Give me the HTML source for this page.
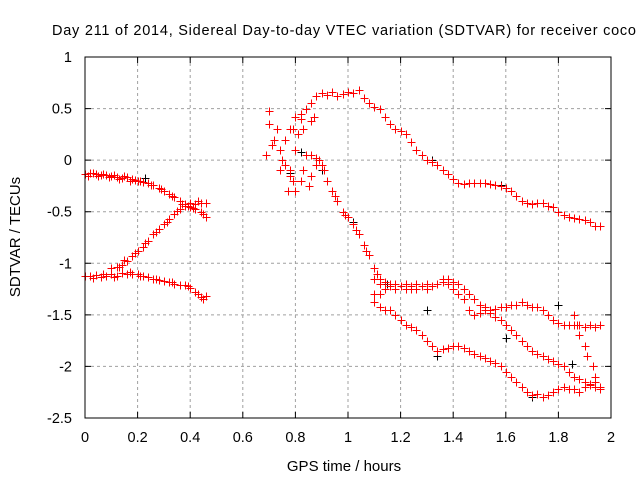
<!DOCTYPE html>
<html><head><meta charset="utf-8"><style>
body{margin:0;background:#fff;}
svg{display:block;font-family:"Liberation Sans",sans-serif;}
</style></head><body>
<svg id="chart" width="640" height="480" viewBox="0 0 640 480" xmlns="http://www.w3.org/2000/svg">
<rect width="640" height="480" fill="#fff"/>
<text x="52" y="35" font-size="14.5" textLength="584" lengthAdjust="spacing" fill="#000">Day 211 of 2014, Sidereal Day-to-day VTEC variation (SDTVAR) for receiver coco</text>
<g id="grid"></g>
<g id="ticks"></g>
<g id="marks"></g>
<rect x="85" y="57" width="526" height="361" fill="none" stroke="#000" stroke-width="1"/>
<text x="344" y="471" font-size="15" text-anchor="middle">GPS time / hours</text>
<text transform="translate(20,237) rotate(-90)" font-size="15" text-anchor="middle">SDTVAR / TECUs</text>
</svg>
<script>
const xTicks=[0,0.2,0.4,0.6,0.8,1,1.2,1.4,1.6,1.8,2];
const xTickLabels=["0","0.2","0.4","0.6","0.8","1","1.2","1.4","1.6","1.8","2"];
const yTicks=[1,0.5,0,-0.5,-1,-1.5,-2,-2.5];
const yTickLabels=["1","0.5","0","-0.5","-1","-1.5","-2","-2.5"];

const traceAX=[0,0.02,0.04,0.06,0.08,0.1,0.12,0.14,0.16,0.18,0.2,0.22,0.24,0.26,0.28,0.3,0.32,0.34,0.36,0.38,0.4,0.42,0.44,0.46];
const traceAY=[-0.13,-0.12,-0.13,-0.14,-0.14,-0.15,-0.16,-0.17,-0.16,-0.18,-0.2,-0.21,-0.22,-0.24,-0.27,-0.3,-0.33,-0.36,-0.4,-0.43,-0.45,-0.47,-0.5,-0.55];
const traceBX=[0.1,0.12,0.14,0.16,0.18,0.2,0.22,0.24,0.26,0.28,0.3,0.32,0.34,0.36,0.38,0.4,0.42,0.44,0.46];
const traceBY=[-1.05,-1.04,-1.02,-0.98,-0.93,-0.88,-0.84,-0.78,-0.72,-0.67,-0.62,-0.57,-0.52,-0.47,-0.44,-0.42,-0.43,-0.42,-0.42];
const traceCX=[0,0.02,0.04,0.06,0.08,0.1,0.12,0.14,0.16,0.18,0.2,0.22,0.24,0.26,0.28,0.3,0.32,0.34,0.36,0.38,0.4,0.42,0.44,0.46];
const traceCY=[-1.12,-1.12,-1.11,-1.13,-1.12,-1.1,-1.12,-1.09,-1.1,-1.1,-1.1,-1.12,-1.13,-1.15,-1.16,-1.17,-1.18,-1.2,-1.21,-1.21,-1.24,-1.28,-1.33,-1.32];
const extraX=[0.01,0.03,0.05,0.07,0.09,0.11,0.13,0.15,0.17,0.19,0.21,0.25,0.29,0.33,0.37,0.41,0.45,0.15,0.19,0.23,0.27,0.31,0.35,0.39,0.43,0.03,0.07,0.11,0.13,0.17,0.21,0.27,0.33,0.39,0.43,0.45];
const extraY=[-0.15,-0.12,-0.15,-0.13,-0.16,-0.14,-0.18,-0.15,-0.2,-0.19,-0.2,-0.24,-0.28,-0.35,-0.43,-0.46,-0.52,-0.97,-0.9,-0.8,-0.7,-0.6,-0.49,-0.44,-0.4,-1.14,-1.1,-1.13,-1.04,-1.08,-1.12,-1.15,-1.18,-1.22,-1.3,-1.35];
const clusterX=[0.69,0.7,0.7,0.72,0.73,0.74,0.75,0.76,0.76,0.77,0.78,0.79,0.8,0.81,0.82,0.83,0.83,0.84,0.85,0.86,0.87,0.88,0.89,0.78,0.8,0.71,0.74,0.79,0.82,0.86];
const clusterY=[0.05,0.35,0.48,0.2,0.3,0.1,0.0,-0.05,0.2,-0.3,-0.1,-0.2,0.1,0.25,-0.2,-0.1,0.3,0.05,-0.25,0.38,0.42,-0.05,0.0,-0.15,-0.3,0.15,-0.1,0.3,0.4,-0.15];
const arcX=[0.78,0.8,0.82,0.84,0.86,0.88,0.9,0.92,0.94,0.96,0.98,1.0,1.02,1.04,1.06,1.08,1.1,1.12,1.14,1.16,1.18,1.2,1.22,1.24,1.26,1.28,1.3,1.32,1.34,1.36,1.38,1.4,1.42,1.44,1.46,1.48,1.5,1.52,1.54,1.56,1.58,1.6,1.62,1.64,1.66,1.68,1.7,1.72,1.74,1.76,1.78,1.8,1.82,1.84,1.86,1.88,1.9,1.92,1.94,1.96];
const arcY=[0.3,0.42,0.45,0.5,0.55,0.62,0.65,0.63,0.66,0.62,0.64,0.66,0.65,0.68,0.6,0.55,0.52,0.5,0.42,0.35,0.3,0.28,0.25,0.18,0.1,0.05,0.0,-0.02,-0.05,-0.1,-0.13,-0.18,-0.22,-0.23,-0.22,-0.22,-0.22,-0.22,-0.23,-0.24,-0.25,-0.27,-0.3,-0.35,-0.4,-0.42,-0.43,-0.42,-0.42,-0.44,-0.45,-0.5,-0.53,-0.55,-0.56,-0.57,-0.58,-0.6,-0.64,-0.64];
const descX=[0.86,0.88,0.9,0.92,0.94,0.96,0.98,1.0,1.02,1.04,1.06,1.08,1.1,1.12,0.91,0.95,0.99,1.03,1.07,1.11];
const descY=[0.05,0.02,-0.05,-0.2,-0.3,-0.4,-0.5,-0.55,-0.62,-0.72,-0.82,-0.92,-1.05,-1.15,-0.1,-0.35,-0.53,-0.68,-0.88,-1.1];
const tailX=[1.1,1.12,1.14,1.16,1.18,1.2,1.22,1.24,1.26,1.28,1.3,1.32,1.34,1.36,1.38,1.4,1.42,1.44,1.46,1.48,1.5,1.52,1.54,1.56,1.58,1.6,1.62,1.64,1.66,1.68,1.7,1.72,1.74,1.76,1.78,1.8,1.82,1.84,1.86,1.88,1.9,1.92,1.94,1.96];
const t1Y=[-1.15,-1.2,-1.18,-1.2,-1.2,-1.22,-1.25,-1.22,-1.2,-1.22,-1.25,-1.22,-1.2,-1.18,-1.2,-1.25,-1.3,-1.35,-1.45,-1.5,-1.48,-1.45,-1.45,-1.44,-1.42,-1.42,-1.4,-1.4,-1.38,-1.4,-1.42,-1.42,-1.45,-1.5,-1.55,-1.58,-1.6,-1.6,-1.6,-1.6,-1.62,-1.6,-1.62,-1.6];
const t2Y=[-1.3,-1.3,-1.25,-1.22,-1.25,-1.22,-1.2,-1.25,-1.25,-1.22,-1.2,-1.22,-1.2,-1.15,-1.15,-1.18,-1.2,-1.25,-1.3,-1.35,-1.4,-1.42,-1.48,-1.52,-1.55,-1.6,-1.65,-1.7,-1.75,-1.8,-1.85,-1.88,-1.9,-1.93,-1.95,-1.98,-2.0,-2.05,-2.1,-2.12,-2.15,-2.17,-2.2,-2.2];
const t3Y=[-1.38,-1.42,-1.45,-1.45,-1.5,-1.55,-1.6,-1.62,-1.65,-1.7,-1.75,-1.8,-1.85,-1.83,-1.82,-1.8,-1.8,-1.82,-1.85,-1.88,-1.9,-1.92,-1.95,-1.97,-2.0,-2.05,-2.1,-2.15,-2.2,-2.25,-2.28,-2.27,-2.3,-2.28,-2.25,-2.22,-2.2,-2.22,-2.22,-2.25,-2.2,-2.18,-2.15,-2.22];
const t4X=[1.86,1.87,1.88,1.9,1.91,1.93,1.94];
const t4Y=[-1.5,-1.6,-1.7,-1.8,-1.9,-2.0,-2.1];
const blackX=[0.23,0.78,0.82,1.02,1.3,1.32,1.34,1.58,1.7,1.8,1.85,1.6,0.9,1.15];
const blackY=[-0.17,-0.12,0.08,-0.6,-1.45,0.0,-1.9,-0.24,-2.3,-1.4,-1.98,-1.72,-0.1,-1.2];

const X0=85,X1=611,Y0=57,Y1=418;
const sx=h=>X0+(h-0)/(2-0)*(X1-X0);
const sy=v=>Y0+(1-v)/(1-(-2.5))*(Y1-Y0);
const NS="http://www.w3.org/2000/svg";
const grid=document.getElementById('grid'),ticks=document.getElementById('ticks'),marks=document.getElementById('marks');
function mk(tag,attrs,parent){const e=document.createElementNS(NS,tag);for(const k in attrs)e.setAttribute(k,attrs[k]);parent.appendChild(e);return e;}

xTicks.forEach((t,i)=>{
  const x=sx(t);
  if(i>0&&i<xTicks.length-1){const g=mk('line',{x1:x,x2:x,y1:Y0,y2:Y1,stroke:'#a0a0a0','stroke-dasharray':'3,3'},grid);
  
  }
  const tk=mk('path',{d:`M${x},${Y1}v-6M${x},${Y0}v6`,stroke:'#000'},ticks);
  
  
  const tx=mk('text',{x:x,y:442,'font-size':14.5,'text-anchor':'middle'},ticks);
  tx.textContent=xTickLabels[i];
  
  
});
yTicks.forEach((t,i)=>{
  const y=sy(t);
  if(i>0&&i<yTicks.length-1){const g=mk('line',{x1:X0,x2:X1,y1:y,y2:y,stroke:'#a0a0a0','stroke-dasharray':'3,3'},grid);
  
  }
  const tk=mk('path',{d:`M${X0},${y}h6M${X1},${y}h-6`,stroke:'#000'},ticks);
  
  
  const tx=mk('text',{x:72,y:y+5,'font-size':14.5,'text-anchor':'end'},ticks);
  tx.textContent=yTickLabels[i];
  
  
});
function plot(xs,ys,color,name){
  xs.forEach((h,i)=>{
    const x=Math.round(sx(h))+0.5,y=Math.round(sy(ys[i]))+0.5;
    const p=mk('path',{d:`M${x-4},${y}h8M${x},${y-4}v8`,stroke:color,'stroke-width':1},marks);
    
    
  });
}
plot(blackX,blackY,'#000','point-black');
plot(traceAX,traceAY,'#ff0000','point-red');
plot(traceBX,traceBY,'#ff0000','point-red');
plot(traceCX,traceCY,'#ff0000','point-red');
plot(extraX,extraY,'#ff0000','point-red');
plot(clusterX,clusterY,'#ff0000','point-red');
plot(arcX,arcY,'#ff0000','point-red');
plot(descX,descY,'#ff0000','point-red');
plot(tailX,t1Y,'#ff0000','point-red');
plot(tailX,t2Y,'#ff0000','point-red');
plot(tailX,t3Y,'#ff0000','point-red');
plot(t4X,t4Y,'#ff0000','point-red');
</script>
</body></html>
